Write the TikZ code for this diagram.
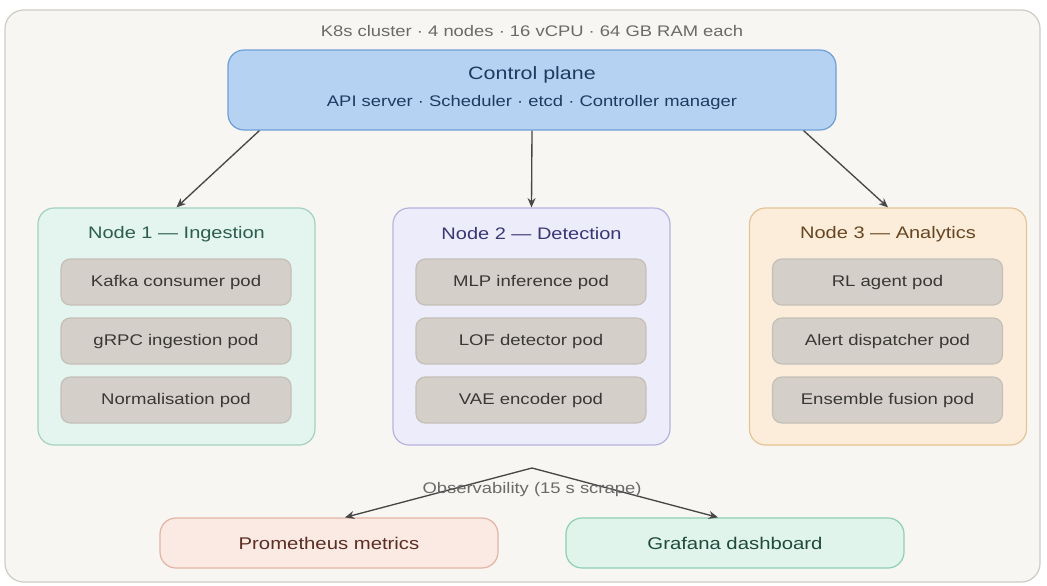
\documentclass[tikz,border=0pt]{standalone}
\usepackage{fontspec}
\setmainfont{Liberation Sans}[FakeStretch=1.2]
\usetikzlibrary{arrows.meta,calc}
\definecolor{bgc}{HTML}{F8F6F3}
\definecolor{bgb}{HTML}{CFCBC5}
\definecolor{cpf}{HTML}{B5D2F3}
\definecolor{cpb}{HTML}{6E9FD6}
\definecolor{cpt}{HTML}{1F3A5F}
\definecolor{naf}{HTML}{E4F4EF}
\definecolor{nab}{HTML}{A3D1C2}
\definecolor{nat}{HTML}{2C5E50}
\definecolor{nbf}{HTML}{EDECFB}
\definecolor{nbb}{HTML}{B6B3DE}
\definecolor{nbt}{HTML}{3A3874}
\definecolor{ncf}{HTML}{FCEDDB}
\definecolor{ncb}{HTML}{E3C495}
\definecolor{nct}{HTML}{664621}
\definecolor{podf}{HTML}{D4D0C9}
\definecolor{podb}{HTML}{C4BFB7}
\definecolor{podt}{HTML}{3A3835}
\definecolor{prf}{HTML}{FBEAE4}
\definecolor{prb}{HTML}{E3B4A5}
\definecolor{prt}{HTML}{5A2E22}
\definecolor{grf}{HTML}{E1F4EC}
\definecolor{grb}{HTML}{8ECFB7}
\definecolor{grt}{HTML}{1F4A3D}
\definecolor{arr}{HTML}{474747}
\definecolor{lbl}{HTML}{6A6A6A}
\tikzset{
  boxbase/.style={rounded corners=12pt, line width=0.9pt, inner sep=0pt},
  nodebox/.style={boxbase, minimum width=277*0.75pt, minimum height=237*0.75pt},
  podbox/.style={rounded corners=7pt, line width=0.9pt, draw=podb, fill=podf, minimum width=230*0.75pt, minimum height=46*0.75pt, text=podt, font=\fontsize{11.6}{13}\selectfont},
  ntitle/.style={font=\fontsize{12.5}{15}\selectfont},
  obsbox/.style={boxbase, minimum width=338*0.75pt, minimum height=50*0.75pt, font=\fontsize{12.7}{15}\selectfont},
  conn/.style={draw=arr, line width=1pt, -{Stealth[length=7pt,width=6pt]}}
}
\begin{document}
\begin{tikzpicture}[x=0.75pt,y=-0.75pt]
\useasboundingbox (0,0) rectangle (1047,586);
\fill[white] (0,0) rectangle (1047,586);
\draw[draw=bgb, fill=bgc, line width=0.9pt, rounded corners=14pt] (5,10) rectangle (1040,582);
\node[text=lbl, font=\fontsize{11.5}{13}\selectfont] (title) at (532,31) {K8s cluster · 4 nodes · 16 vCPU · 64 GB RAM each};

\node[boxbase, draw=cpb, fill=cpf, minimum width=608*0.75pt, minimum height=80*0.75pt] (cp) at (532,90) {};
\node[text=cpt, font=\fontsize{13.4}{16}\selectfont] (cpt) at (532,75) {Control plane};
\node[text=cpt, font=\fontsize{11.5}{13}\selectfont] (cps) at (532,103) {API server · Scheduler · etcd · Controller manager};

\node[nodebox, draw=nab, fill=naf] (n1) at (176.5,326.5) {};
\node[nodebox, draw=nbb, fill=nbf] (n2) at (531.5,326.5) {};
\node[nodebox, draw=ncb, fill=ncf] (n3) at (888,326.5) {};

\node[ntitle, text=nat] (t1) at (176.5,234) {Node 1 — Ingestion};
\node[ntitle, text=nbt] (t2) at (531.5,234) {Node 2 — Detection};
\node[ntitle, text=nct] (t3) at (888,234) {Node 3 — Analytics};

\node[podbox] (p11) at (176,282) {Kafka consumer pod};
\node[podbox] (p12) at (176,341) {gRPC ingestion pod};
\node[podbox] (p13) at (176,400) {Normalisation pod};
\node[podbox] (p21) at (531,282) {MLP inference pod};
\node[podbox] (p22) at (531,341) {LOF detector pod};
\node[podbox] (p23) at (531,400) {VAE encoder pod};
\node[podbox] (p31) at (887.5,282) {RL agent pod};
\node[podbox] (p32) at (887.5,341) {Alert dispatcher pod};
\node[podbox] (p33) at (887.5,400) {Ensemble fusion pod};

\draw[conn] ($(cp.south west)+(32,0)$) -- (n1.north);
\draw[conn] (cp.south) -- (n2.north);
\draw[conn] ($(cp.south east)+(-33,0)$) -- (n3.north);

\node[obsbox, draw=prb, fill=prf, text=prt] (prom) at (329,543) {Prometheus metrics};
\node[obsbox, draw=grb, fill=grf, text=grt] (graf) at (735,543) {Grafana dashboard};

\coordinate (obs) at (532,468);
\draw[conn] (obs) -- ($(prom.north)+(16,0)$);
\draw[conn] (obs) -- ($(graf.north)+(-17,0)$);
\node[text=lbl, font=\fontsize{11.5}{13}\selectfont] (obsl) at (532,490) {Observability (15 s scrape)};
\end{tikzpicture}
\end{document}
